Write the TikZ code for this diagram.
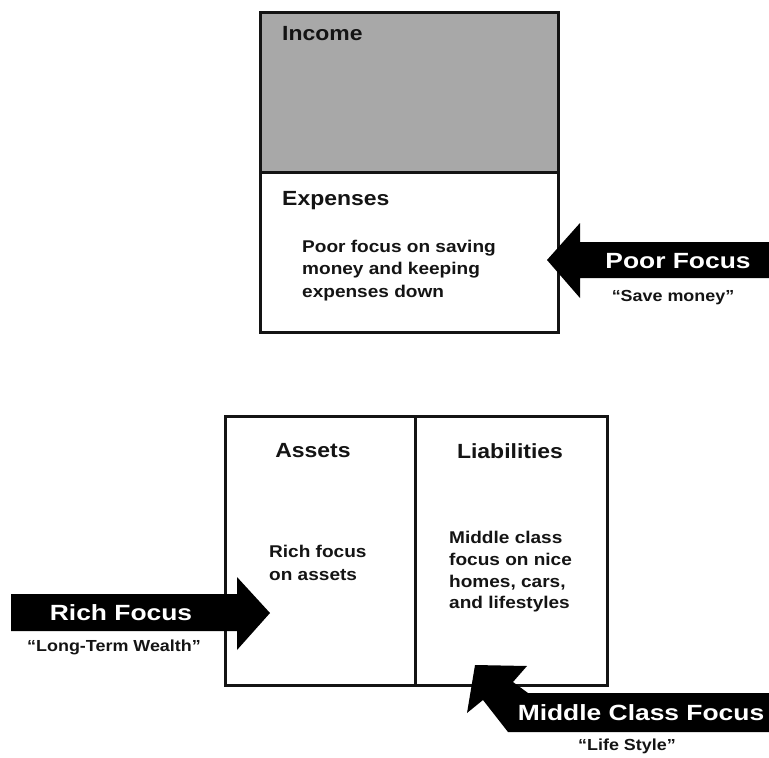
\documentclass[tikz,border=0pt]{standalone}
\usepackage{fontspec}
\setmainfont{Liberation Sans}[FakeStretch=1.12]
\newfontfamily\widefont{Liberation Sans}[FakeStretch=1.2]
\definecolor{incomegray}{RGB}{168,168,168}
\definecolor{ink}{RGB}{20,20,20}
\begin{document}
\begin{tikzpicture}[x=1pt,y=-1pt,
  headtxt/.style={font=\fontsize{20.5}{24}\selectfont\bfseries, inner sep=0, text=ink},
  bodytxt/.style={font=\fontsize{17}{21}\selectfont\bfseries, inner sep=0, anchor=base west, text=ink},
  arrowlabel/.style={font=\widefont\fontsize{22}{26}\selectfont\bfseries, text=white, inner sep=0, anchor=base},
  subtxt/.style={font=\fontsize{16}{19}\selectfont\bfseries, inner sep=0, anchor=base, text=ink},
  frame/.style={line width=3pt, draw=ink},
  bigarrow/.style={fill=black}]
\useasboundingbox (0,0) rectangle (769,758);
\fill[white] (0,0) rectangle (769,758);
% top box
\fill[incomegray] (260,12) rectangle (558,172);
\draw[frame] (260,12) rectangle (558,332);
\draw[frame] (260,172) -- (558,172);
\node[headtxt, anchor=base west] (income) at (282,40) {Income};
\node[headtxt, anchor=base west] (expenses) at (282,205) {Expenses};
\node[bodytxt] (exp1) at (302,252) {Poor focus on saving};
\node[bodytxt] (exp2) at (302,274.5) {money and keeping};
\node[bodytxt] (exp3) at (302,297) {expenses down};
% bottom box
\draw[frame] (225,416) rectangle (607,685);
\draw[frame] (415,416) -- (415,685);
\node[headtxt, anchor=base] (assets) at (313,457) {Assets};
\node[headtxt, anchor=base] (liab) at (510,458) {Liabilities};
\node[bodytxt] (rich1) at (269,557) {Rich focus};
\node[bodytxt] (rich2) at (269,580) {on assets};
\node[bodytxt] (mid1) at (449,543) {Middle class};
\node[bodytxt] (mid2) at (449,565) {focus on nice};
\node[bodytxt] (mid3) at (449,587) {homes, cars,};
\node[bodytxt] (mid4) at (449,608.5) {and lifestyles};
% poor arrow
\fill[bigarrow] (769,242) -- (580,242) -- (580,223) -- (547,260) -- (580,298) -- (580,278) -- (769,278) -- cycle;
\node[arrowlabel] (poor) at (678,268) {Poor Focus};
\node[subtxt] (poorsub) at (673,301) {“Save money”};
% rich arrow
\fill[bigarrow] (11,594) -- (237,594) -- (237,577) -- (270,613) -- (237,650) -- (237,631) -- (11,631) -- cycle;
\node[arrowlabel] (rich) at (121,620) {Rich Focus};
\node[subtxt] (richsub) at (114,651) {“Long-Term Wealth”};
% middle class arrow
\fill[bigarrow] (475,665) -- (527,666) -- (513,682) -- (528,693) -- (769,693) -- (769,732) -- (508,732) -- (483,700) -- (467,713) -- cycle;
\node[arrowlabel] (middle) at (641,720) {Middle Class Focus};
\node[subtxt] (midsub) at (627,750) {“Life Style”};
\end{tikzpicture}
\end{document}
